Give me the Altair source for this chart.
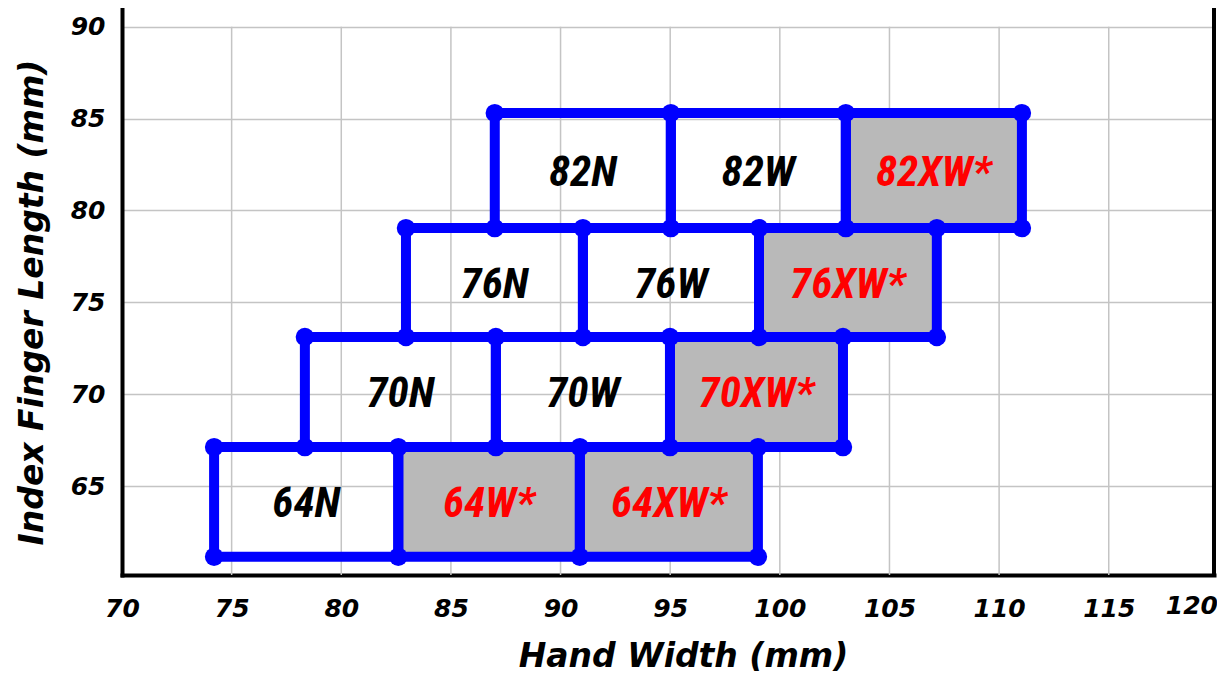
import altair as alt
import pandas as pd

# ---- data ----
row_sizes = ["64", "70", "76", "82"]
width_codes = ["N", "W", "XW"]
row_bottom = [61.15, 67.12, 73.11, 79.04]
row_top = [67.12, 73.11, 79.04, 85.30]
row_edges = [
    [74.2, 82.6, 90.88, 99.0],
    [78.34, 87.05, 94.99, 102.88],
    [82.95, 91.02, 99.05, 107.16],
    [87.0, 95.03, 103.01, 111.04],
]
starred = ["64W", "64XW", "70XW", "76XW", "82XW"]
x_ticks = [70, 75, 80, 85, 90, 95, 100, 105, 110, 115]
x_last_label = "120"
y_ticks = [65, 70, 75, 80, 85, 90]
x_domain = [70, 119.8]
y_domain = [60.16, 91.02]
grid_top = 90

# ---- tables ----
cells = []
corners = []
for i, rs in enumerate(row_sizes):
    e = row_edges[i]
    for j, wc in enumerate(width_codes):
        code = rs + wc
        st = code in starred
        cells.append(dict(x0=e[j], x1=e[j + 1], y0=row_bottom[i], y1=row_top[i],
                          cx=(e[j] + e[j + 1]) / 2, cy=(row_bottom[i] + row_top[i]) / 2,
                          label=code + ("*" if st else ""), star=st))
    for xv in e:
        corners.append(dict(x0=xv, y0=row_bottom[i]))
        corners.append(dict(x0=xv, y0=row_top[i]))
cells = pd.DataFrame(cells)
corners = pd.DataFrame(corners)
vgrid = pd.DataFrame({"x0": x_ticks[1:]})
edge = pd.DataFrame({"x0": [x_domain[1]], "y0": [y_domain[0]], "t": [x_last_label]})

FONT = "DejaVu Sans"
CELL_FONT = "Roboto Condensed, Liberation Sans Narrow, DejaVu Sans Condensed, Liberation Sans"
xs = alt.Scale(domain=x_domain, nice=False, zero=False)
ys = alt.Scale(domain=y_domain, nice=False, zero=False)

xaxis = alt.Axis(values=x_ticks, grid=False, ticks=False, domainColor="black", domainWidth=4,
                 domainCap="square", labelFlush=False,
                 labelFont=FONT, labelFontSize=25, labelFontWeight="bold", labelFontStyle="italic",
                 labelColor="black", labelPadding=21, labelOverlap=False,
                 title="Hand Width (mm)", titleFont=FONT, titleFontSize=33, titleFontWeight="bold",
                 titleFontStyle="italic", titleColor="black", titleX=561, titleY=91,
                 titleBaseline="alphabetic", titleAlign="center")
yaxis = alt.Axis(values=y_ticks, grid=True, gridColor="#c4c4c4", gridWidth=1.5, ticks=False,
                 domainColor="black", domainWidth=4, domainCap="square", labelFlush=False,
                 labelFont=FONT, labelFontSize=25, labelFontWeight="bold", labelFontStyle="italic",
                 labelColor="black", labelPadding=17, labelOverlap=False,
                 title="Index Finger Length (mm)", titleFont=FONT, titleFontSize=33,
                 titleFontWeight="bold", titleFontStyle="italic", titleColor="black",
                 titleX=-80, titleY=294, titleBaseline="alphabetic", titleAlign="center")

vg = alt.Chart(vgrid).mark_rule(color="#c4c4c4", strokeWidth=1.5).encode(
    x=alt.X("x0:Q", scale=xs, axis=xaxis),
    y=alt.Y(datum=grid_top, scale=ys, axis=yaxis),
    y2=alt.Y2(datum=y_domain[0]),
)

fills = alt.Chart(cells).transform_filter("datum.star").mark_rect(color="#b9b9b9").encode(
    x=alt.X("x0:Q", scale=xs, axis=xaxis), x2="x1:Q",
    y=alt.Y("y0:Q", scale=ys, axis=yaxis), y2="y1:Q",
)

outlines = alt.Chart(cells).mark_rect(fillOpacity=0, stroke="#0000ff", strokeWidth=10).encode(
    x=alt.X("x0:Q", scale=xs, axis=xaxis), x2="x1:Q",
    y=alt.Y("y0:Q", scale=ys, axis=yaxis), y2="y1:Q",
)

dots = alt.Chart(corners).mark_circle(color="#0000ff", size=340, opacity=1).encode(
    x=alt.X("x0:Q", scale=xs, axis=xaxis),
    y=alt.Y("y0:Q", scale=ys, axis=yaxis),
)

labels = alt.Chart(cells).mark_text(font=CELL_FONT, fontSize=43, fontWeight="bold",
                                    fontStyle="italic", baseline="middle", align="center", dy=2).encode(
    x=alt.X("cx:Q", scale=xs, axis=xaxis),
    y=alt.Y("cy:Q", scale=ys, axis=yaxis),
    text="label:N",
    color=alt.condition("datum.star", alt.value("#ff0000"), alt.value("#000000")),
)

border = alt.Chart(edge).mark_rule(color="black", strokeWidth=4).encode(
    x=alt.X("x0:Q", scale=xs, axis=xaxis),
)

last_lab = alt.Chart(edge).mark_text(font=FONT, fontSize=25, fontWeight="bold", fontStyle="italic",
                                     align="right", baseline="top", dx=4, dy=19, color="black").encode(
    x=alt.X("x0:Q", scale=xs, axis=xaxis),
    y=alt.Y("y0:Q", scale=ys, axis=yaxis),
    text="t:N",
)

chart = alt.layer(vg, fills, outlines, dots, labels, border, last_lab).properties(
    width=1092, height=567, autosize="none",
    padding={"left": 114, "top": 0, "right": 3, "bottom": 99},
).configure_view(strokeWidth=0)

chart.save("out.html", embed_options={"renderer": "svg", "actions": False})
